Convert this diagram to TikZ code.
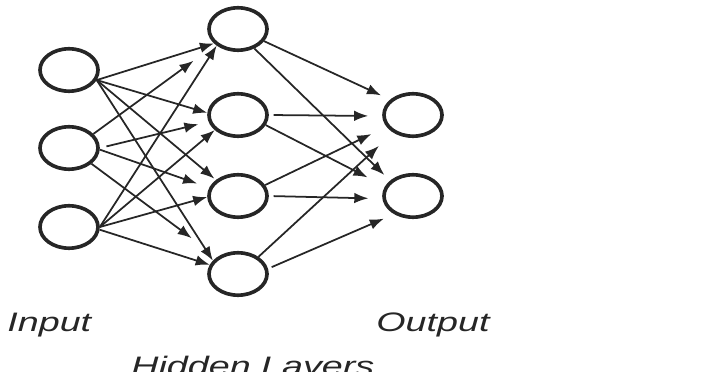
\documentclass[tikz,border=0pt]{standalone}
\usepackage{fontspec}
\setmainfont{Liberation Sans}
\usepackage{tikz}
\usetikzlibrary{arrows.meta,shapes.geometric,positioning}
\definecolor{ink}{HTML}{262626}

\tikzset{
  neuron/.style={draw=ink,line width=2.6pt,ellipse,inner sep=0pt,minimum width=1.45cm,minimum height=1.06cm},
  conn/.style={draw=ink,line width=1.25pt,-{Latex[length=10pt,width=7.5pt]}},
  lbl/.style={inner sep=0pt,anchor=base west,text=ink,xscale=1.41,font=\fontsize{19pt}{22pt}\selectfont\itshape}
}

\begin{document}
\begin{tikzpicture}[x=0.025cm,y=-0.025cm]
\useasboundingbox (0,0) rectangle (725,372);
\clip (0,0) rectangle (725,372);

\node[neuron] (i1) at (69,70) {};
\node[neuron] (i2) at (69,148) {};
\node[neuron] (i3) at (69,227) {};

\node[neuron] (h1) at (238,29) {};
\node[neuron] (h2) at (238,115) {};
\node[neuron] (h3) at (238,196) {};
\node[neuron] (h4) at (238,274) {};

\node[neuron] (o1) at (413,115) {};
\node[neuron] (o2) at (413,196) {};

\draw[conn] (i1.-20) -- (h1.211);
\draw[conn] (i1.-20) -- (h2.176);
\draw[conn,shorten >=0.05cm] (i1.-20) -- (h3.144);
\draw[conn] (i1.-20) -- (h4.152);

\draw[conn,shorten >=0.68cm] (i2.30) -- (h1.215);
\draw[conn,shorten <=0.17cm,shorten >=0.26cm] (i2.0) -- (h2.193);
\draw[conn,shorten >=0.32cm] (i2.-3) -- (h3.164);
\draw[conn,shorten >=0.79cm] (i2.-35) -- (h4.141);

\draw[conn] (i3.0) -- (h1.218);
\draw[conn] (i3.0) -- (h2.213);
\draw[conn] (i3.0) -- (h3.182);
\draw[conn] (i3.-5) -- (h4.162);

\draw[conn,shorten >=0.25cm] (h1.-25) -- (o1.146);
\draw[conn,shorten >=0.2cm] (h1.-50) -- (o2.146);
\draw[conn,shorten <=0.12cm,shorten >=0.35cm] (h2.0) -- (o1.182);
\draw[conn,shorten >=0.49cm] (h2.-20) -- (o2.161);
\draw[conn,shorten >=0.42cm] (h3.22) -- (o1.204);
\draw[conn,shorten <=0.12cm,shorten >=0.35cm] (h3.0) -- (o2.185);
\draw[conn,shorten >=0.49cm] (h4.40) -- (o1.222);
\draw[conn,shorten <=0.1cm,shorten >=0.28cm] (h4.10) -- (o2.224);

\node[lbl] (input) at (7,332) {Input};
\node[lbl] (output) at (376,332) {Output};
\node[lbl] (hidden) at (131,376) {Hidden Layers};
\end{tikzpicture}
\end{document}
